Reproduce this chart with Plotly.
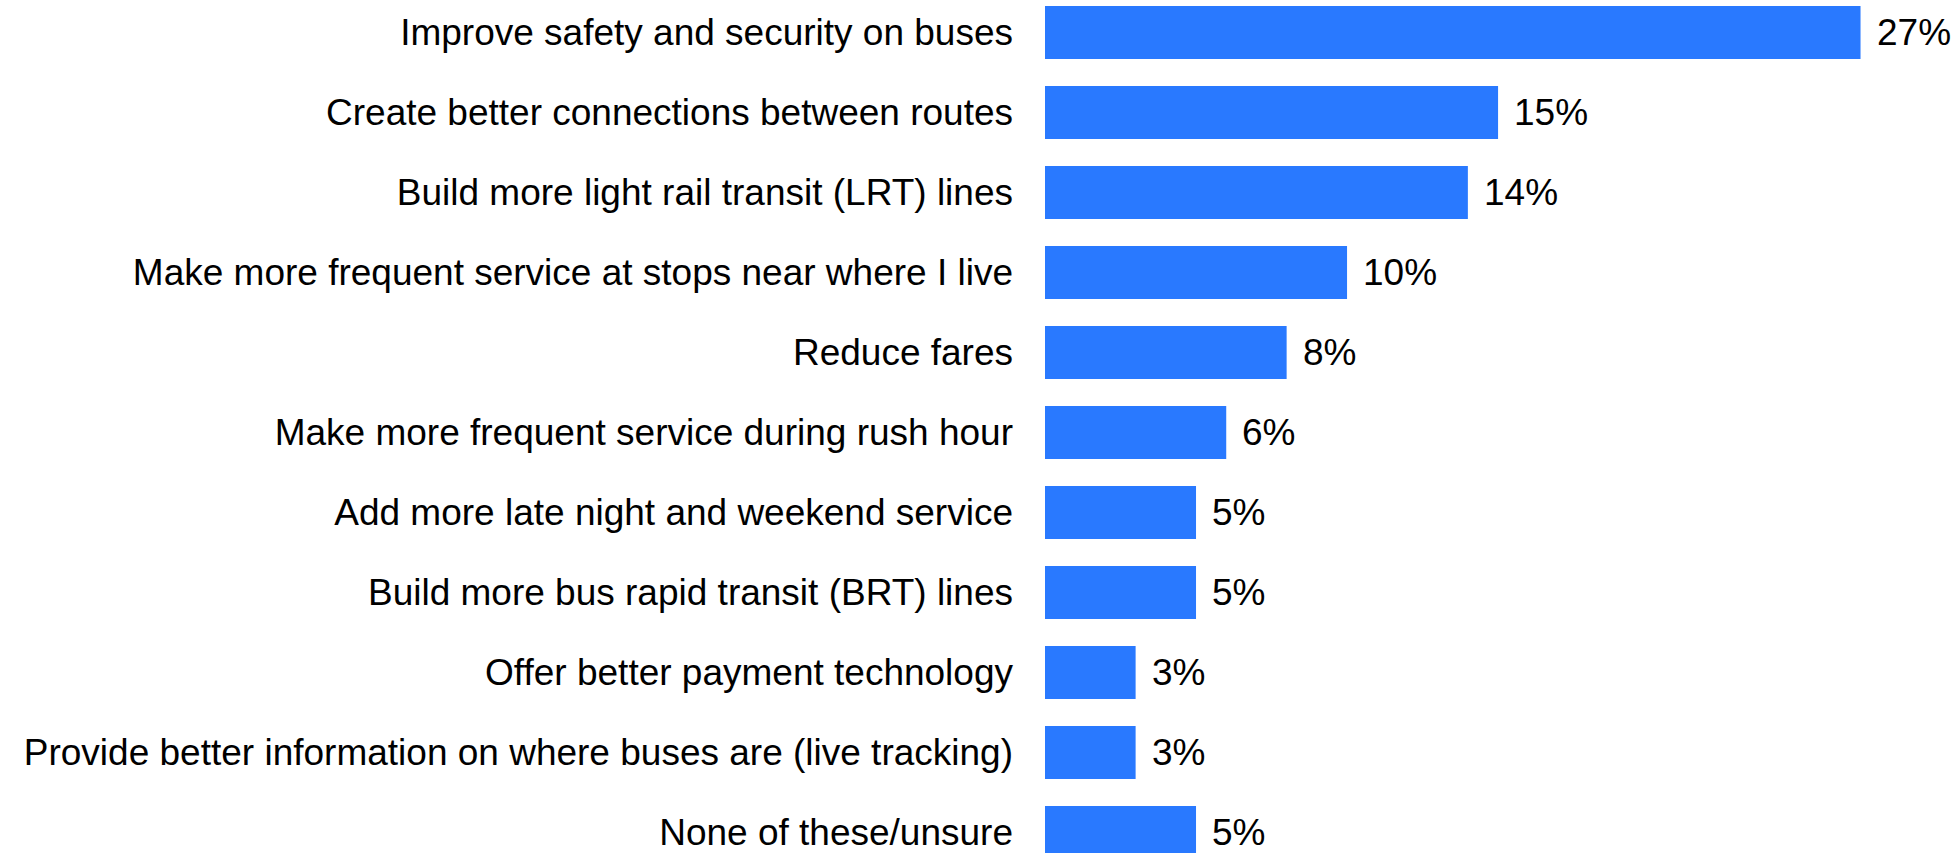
import plotly.graph_objects as go

categories = [
    "Improve safety and security on buses",
    "Create better connections between routes",
    "Build more light rail transit (LRT) lines",
    "Make more frequent service at stops near where I live",
    "Reduce fares",
    "Make more frequent service during rush hour",
    "Add more late night and weekend service",
    "Build more bus rapid transit (BRT) lines",
    "Offer better payment technology",
    "Provide better information on where buses are (live tracking)",
    "None of these/unsure",
]
values = [27, 15, 14, 10, 8, 6, 5, 5, 3, 3, 5]
labels = [f"{v}%" for v in values]

BAR_COLOR = "#2979FF"
FONT = "Liberation Sans, Arial, sans-serif"
FS = 37

fig = go.Figure()
fig.add_trace(go.Bar(
    x=values,
    y=categories,
    orientation="h",
    marker=dict(color=BAR_COLOR, line=dict(width=0)),
    hoverinfo="skip",
))

for c, v, t in zip(categories, values, labels):
    fig.add_annotation(
        x=v, y=c, text=t, showarrow=False,
        xanchor="left", yanchor="middle", xshift=14,
        font=dict(family=FONT, size=FS, color="black"),
    )

fig.update_layout(
    width=1959, height=853,
    margin=dict(l=1045, r=0, t=0, b=0, pad=0),
    paper_bgcolor="white", plot_bgcolor="white",
    bargap=0.3375,
    showlegend=False,
    font=dict(family=FONT, size=FS, color="black"),
)
fig.update_xaxes(range=[0, 30.26], visible=False, showgrid=False, zeroline=False)
fig.update_yaxes(
    range=[10.256, -0.406],
    showgrid=False, zeroline=False, showline=False,
    ticks="", ticklabelstandoff=31,
    tickfont=dict(family=FONT, size=FS, color="black"),
)

fig.write_html(
    "out.html",
    config={"displayModeBar": False},
    post_script="document.body.style.margin='0';document.body.style.overflow='hidden';",
)
